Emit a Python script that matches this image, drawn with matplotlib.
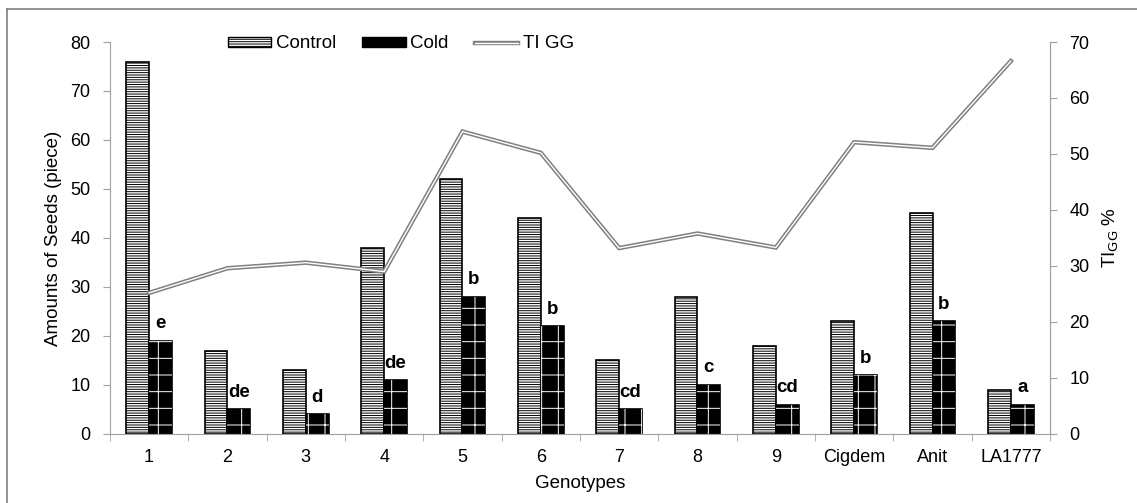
import numpy as np
import matplotlib
matplotlib.use("Agg")
import matplotlib.pyplot as plt
from matplotlib.lines import Line2D
from matplotlib.patches import Patch

plt.rcParams['font.family'] = ['Liberation Sans', 'DejaVu Sans']
plt.rcParams['hatch.linewidth'] = 0.7

# data
genotypes = ['1', '2', '3', '4', '5', '6', '7', '8', '9', 'Cigdem', 'Anit', 'LA1777']
control = [76, 17, 13, 38, 52, 44, 15, 28, 18, 23, 45, 9]
cold = [19, 5, 4, 11, 28, 22, 5, 10, 6, 12, 23, 6]
ti_gg = [25.2, 29.6, 30.6, 29.0, 54.0, 50.2, 33.2, 35.8, 33.3, 52.1, 51.1, 66.6]
letters = ['e', 'de', 'd', 'de', 'b', 'b', 'cd', 'c', 'cd', 'b', 'b', 'a']

fig = plt.figure(figsize=(11.37, 5.03), dpi=100)
ax = fig.add_axes([0.0967, 0.1372, 0.8268, 0.7793])
ax2 = ax.twinx()

x = np.arange(len(genotypes))
w = 0.29
grey = '#a0a0a0'
fs = 13

# control bars: white with horizontal stripes
ax.bar(x - w / 2, control, w, facecolor='white', edgecolor='black',
       hatch='-------', linewidth=1.2, zorder=2)
# cold bars: black with white dotted grid
ax.bar(x + w / 2, cold, w, facecolor='black', edgecolor='black', linewidth=1.2, zorder=2)
ax.bar(x + w / 2, cold, w, facecolor='none', edgecolor='white', hatch='+',
       linewidth=0, zorder=3)

for xi, v, t in zip(x, cold, letters):
    ax.annotate(t, (xi + w / 2, v), xytext=(0, 9), textcoords='offset points',
                ha='center', va='baseline', fontsize=13.5, fontweight='bold')

# TI GG line: double line look
ax2.plot(x, ti_gg, color='#808080', lw=3.2, zorder=4, solid_joinstyle='miter')
ax2.plot(x, ti_gg, color='white', lw=1.0, zorder=5, solid_joinstyle='miter')

ax.set_xlim(-0.5, len(genotypes) - 0.5)
ax.set_ylim(0, 80)
ax2.set_ylim(0, 70)
ax.set_yticks(range(0, 81, 10))
ax2.set_yticks(range(0, 71, 10))
ax.set_xticks(x)
ax.set_xticklabels(genotypes)
ax.set_xticks(np.arange(-0.5, len(genotypes), 1), minor=True)
ax.tick_params(axis='x', which='major', length=0, pad=11, labelsize=fs)
ax.tick_params(axis='x', which='minor', length=5, color=grey, direction='out')
ax.tick_params(axis='y', length=5, color=grey, labelsize=fs, pad=9)
ax2.tick_params(axis='y', length=5, color=grey, labelsize=fs, pad=9)

for a in (ax, ax2):
    a.spines['top'].set_visible(False)
    for s in ('left', 'right', 'bottom'):
        a.spines[s].set_color(grey)
ax2.spines['left'].set_visible(False)
ax2.spines['bottom'].set_visible(False)

ax.set_xlabel('Genotypes', fontsize=13.5, labelpad=6)
ax.set_ylabel('Amounts of Seeds (piece)', fontsize=13.5, labelpad=6)
ax2.set_ylabel('TI$_{\\mathrm{GG}}$ %', fontsize=13.5, rotation=90, labelpad=8)

handles = [Patch(facecolor='white', edgecolor='black', hatch='-------'),
           Patch(facecolor='black', edgecolor='black'),
           (Line2D([], [], color='#808080', lw=3.2), Line2D([], [], color='white', lw=1.0))]
leg = fig.legend(handles, ['Control', 'Cold', 'TI GG'], loc='center',
                 bbox_to_anchor=(401 / 1137, 1 - 44 / 503), ncol=3, frameon=False,
                 fontsize=13.5, handlelength=2.3, handleheight=0.45, handletextpad=0.25,
                 columnspacing=1.4)

# outer frame (top and left edges visible)
fig.add_artist(Line2D([7 / 1137, 7 / 1137], [0, 1 - 9 / 503], color='#808080', lw=1.2,
                      transform=fig.transFigure))
fig.add_artist(Line2D([7 / 1137, 1], [1 - 9 / 503, 1 - 9 / 503], color='#808080', lw=1.2,
                      transform=fig.transFigure))

fig.savefig('out.png', dpi=100)
